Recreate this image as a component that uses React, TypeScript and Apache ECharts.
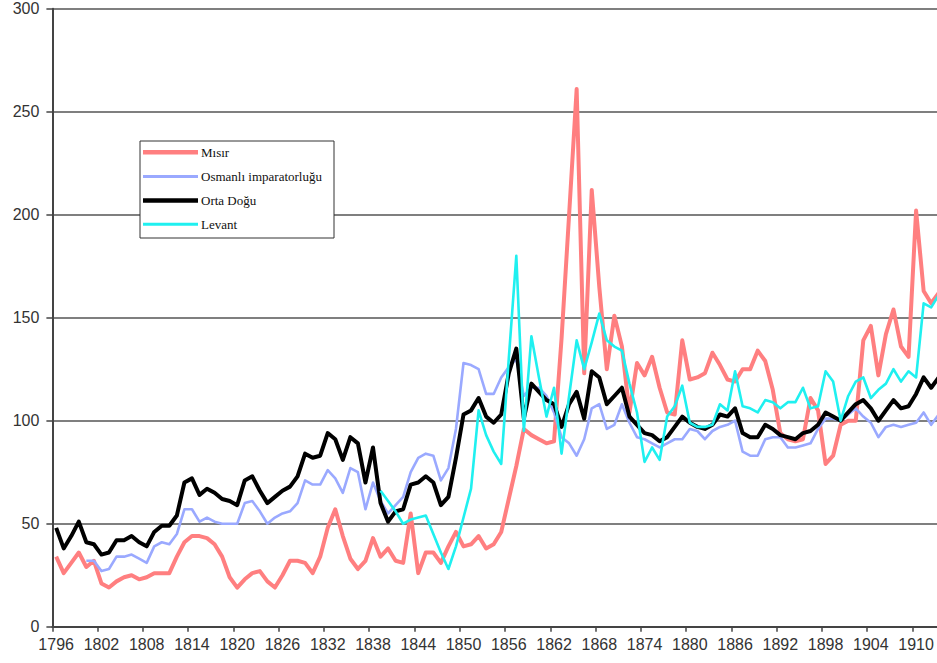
import React, { useEffect, useRef } from "react";
import * as echarts from "echarts";

const years: string[] = [];
for (let y = 1796; y <= 1913; y++) years.push(String(y));

const yTicks = [0, 50, 100, 150, 200, 250, 300];

const seriesNames = ["Mısır", "Osmanlı imparatorluğu", "Orta Doğu", "Levant"];

const misir = [
  34, 26, 31, 36, 29, 32, 21, 19, 22, 24,
  25, 23, 24, 26, 26, 26, 34, 41, 44, 44,
  43, 40, 34, 24, 19, 23, 26, 27, 22, 19,
  25, 32, 32, 31, 26, 34, 48, 57, 44, 33,
  28, 32, 43, 34, 38, 32, 31, 55, 26, 36,
  36, 31, 39, 46, 39, 40, 44, 38, 40, 46,
  62, 78, 96, 93, 91, 89, 90, 140, 200, 261,
  123, 212, 165, 125, 151, 136, 104, 128, 122, 131,
  116, 104, 103, 139, 120, 121, 123, 133, 127, 120,
  119, 125, 125, 134, 129, 115, 94, 91, 90, 91,
  111, 105, 79, 83, 98, 100, 100, 139, 146, 122,
  142, 154, 136, 131, 202, 163, 157, 162,
];

const osmanli = [
  null, null, null, null, 32, 32, 27, 28, 34, 34,
  35, 33, 31, 39, 41, 40, 45, 57, 57, 51,
  53, 51, 50, 50, 50, 60, 61, 56, 50, 53,
  55, 56, 60, 71, 69, 69, 76, 72, 65, 77,
  75, 57, 70, 61, 55, 59, 63, 75, 82, 84,
  83, 71, 77, 96, 128, 127, 125, 113, 113, 121,
  126, 130, 112, 116, 116, 112, 104, 92, 89, 83,
  91, 106, 108, 96, 98, 108, 99, 92, 91, 89,
  87, 89, 91, 91, 96, 95, 91, 95, 97, 98,
  100, 85, 83, 83, 91, 92, 92, 87, 87, 88,
  89, 96, 101, 101, 100, 103, 106, 102, 99, 92,
  97, 98, 97, 98, 99, 104, 98, 103,
];

const ortaDogu = [
  48, 38, 44, 51, 41, 40, 35, 36, 42, 42,
  44, 41, 39, 46, 49, 49, 54, 70, 72, 64,
  67, 65, 62, 61, 59, 71, 73, 66, 60, 63,
  66, 68, 73, 84, 82, 83, 94, 91, 81, 92,
  89, 70, 87, 60, 51, 56, 57, 69, 70, 73,
  70, 59, 63, 82, 103, 105, 111, 102, 99, 103,
  123, 135, 101, 118, 114, 110, 108, 97, 108, 114,
  101, 124, 121, 108, 112, 116, 102, 98, 94, 93,
  90, 92, 97, 102, 99, 97, 96, 98, 103, 102,
  106, 94, 92, 92, 98, 96, 93, 92, 91, 94,
  95, 98, 104, 102, 100, 104, 108, 110, 106, 100,
  105, 110, 106, 107, 113, 121, 116, 121,
];

const levant = [
  null, null, null, null, null, null, null, null, null, null,
  null, null, null, null, null, null, null, null, null, null,
  null, null, null, null, null, null, null, null, null, null,
  null, null, null, null, null, null, null, null, null, null,
  null, null, null, 66, 61, 56, 50, 52, 53, 54,
  45, 36, 28, 39, 53, 67, 105, 93, 85, 79,
  130, 180, 95, 141, 121, 102, 116, 84, 112, 139,
  125, 138, 152, 139, 136, 134, 118, 104, 80, 87,
  81, 102, 107, 117, 99, 97, 97, 98, 108, 105,
  124, 107, 106, 104, 110, 109, 106, 109, 109, 116,
  106, 107, 124, 119, 100, 112, 119, 121, 111, 115,
  118, 125, 119, 124, 121, 157, 155, 161,
];

const colors = ["#ff7f80", "#9aa9ff", "#000000", "#1ff0f0"];
const widths = [4, 2.6, 4, 2.6];

export default function App() {
  const ref = useRef<HTMLDivElement>(null);

  useEffect(() => {
    if (!ref.current) return;
    const chart = echarts.init(ref.current, undefined, { renderer: "svg" });
    const dataSets = [misir, osmanli, ortaDogu, levant];

    const legendRows = [152.3, 176.5, 200.5, 224.3];
    const legendGraphics: any[] = [
      {
        type: "rect",
        z: 5,
        shape: { x: 140, y: 141, width: 194, height: 97 },
        style: { fill: "#ffffff", stroke: "#333", lineWidth: 1 },
      },
    ];
    seriesNames.forEach((name, i) => {
      legendGraphics.push({
        type: "line",
        z: 6,
        shape: { x1: 143, y1: legendRows[i], x2: 198, y2: legendRows[i] },
        style: { stroke: colors[i], lineWidth: widths[i] + 0.4 },
      });
      legendGraphics.push({
        type: "text",
        z: 6,
        x: 201,
        y: legendRows[i],
        style: {
          text: name,
          fill: "#111",
          font: '13px "Liberation Serif", "Times New Roman", serif',
          textVerticalAlign: "middle",
          verticalAlign: "middle",
        },
      });
    });

    const option: any = {
      animation: false,
      backgroundColor: "#ffffff",
      grid: {
        left: 52.4,
        top: 8.7,
        width: 890.1,
        bottom: 36.3,
        containLabel: false,
      },
      graphic: legendGraphics,
      xAxis: {
        type: "category",
        data: years,
        boundaryGap: true,
        axisLine: { show: true, lineStyle: { color: "#444", width: 2 } },
        axisTick: { show: true, interval: 5, length: 5, lineStyle: { color: "#444", width: 1.5 } },
        axisLabel: {
          interval: 5,
          margin: 10,
          fontSize: 16,
          color: "#333",
          fontFamily: "Liberation Sans, Arial, sans-serif",
        },
        splitLine: { show: false },
      },
      yAxis: {
        type: "value",
        min: yTicks[0],
        max: yTicks[yTicks.length - 1],
        interval: 50,
        axisLine: { show: true, lineStyle: { color: "#444", width: 2 } },
        axisTick: { show: true, length: 6, lineStyle: { color: "#444", width: 1.5 } },
        axisLabel: {
          margin: 13,
          fontSize: 16,
          color: "#333",
          fontFamily: "Liberation Sans, Arial, sans-serif",
        },
        splitLine: { show: true, lineStyle: { color: "#555", width: 1.5 } },
      },
      series: seriesNames.map((name, i) => ({
        name,
        type: "line",
        data: dataSets[i],
        symbol: "none",
        showSymbol: false,
        smooth: false,
        connectNulls: false,
        z: 2 + i * 0.1,
        color: colors[i],
        lineStyle: { color: colors[i], width: widths[i], join: "round" },
      })),
    };
    chart.setOption(option);
    return () => chart.dispose();
  }, []);

  return (
    <div
      ref={ref}
      style={{ position: "fixed", left: 0, top: 0, width: "946px", height: "663px" }}
    />
  );
}
